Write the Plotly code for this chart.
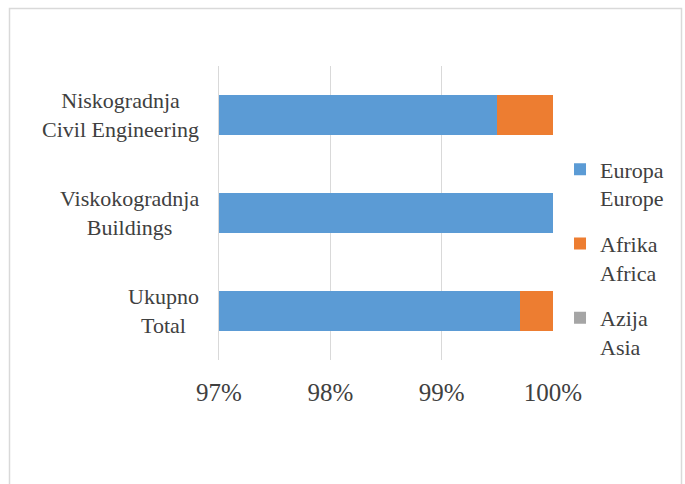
import plotly.graph_objects as go

categories = ["Niskogradnja<br>Civil Engineering", "Viskokogradnja<br>Buildings", "Ukupno<br>Total"]
europe = [99.5, 100.0, 99.7]
africa = [0.5, 0.0, 0.3]
asia = [0.0, 0.0, 0.0]
series_names = ["Europa<br>Europe", "Afrika<br>Africa", "Azija<br>Asia"]
colors = ["#5B9BD5", "#ED7D31", "#A5A5A5"]
tick_vals = [97, 98, 99, 100]
tick_text = ["97%", "98%", "99%", "100%"]

FONT = "Liberation Serif"
TXT = "#404040"
GRID = "#D9D9D9"

fig = go.Figure()
for name, vals, col in zip(series_names, [europe, africa, asia], colors):
    fig.add_trace(go.Bar(
        y=categories, x=vals, name=name, orientation="h",
        marker=dict(color=col, line=dict(width=0)),
        legendgroup=name,
    ))

# category labels, centred within a right-aligned block
for cat in categories:
    fig.add_annotation(
        x=(201 - 219) / 334, xref="paper", y=cat, yref="y",
        text=cat, showarrow=False, xanchor="right", align="center",
        font=dict(size=22, family=FONT, color=TXT),
    )

fig.update_layout(
    barmode="stack",
    bargap=0.6,
    width=685, height=484,
    margin=dict(l=219, r=132, t=66, b=124, autoexpand=False),
    paper_bgcolor="white", plot_bgcolor="white",
    font=dict(family=FONT, color=TXT, size=22),
    xaxis=dict(
        range=[97, 100], tickvals=tick_vals, ticktext=tick_text,
        showgrid=True, gridcolor=GRID, gridwidth=1,
        zeroline=False, showline=False,
        tickfont=dict(size=25, family=FONT, color=TXT),
        ticks="", ticklabelstandoff=15,
    ),
    yaxis=dict(
        autorange="reversed", showgrid=False, zeroline=False,
        showline=True, linecolor=GRID, linewidth=1,
        showticklabels=False, ticks="",
    ),
    legend=dict(
        x=1.021, xanchor="left", y=0.347, yanchor="middle",
        traceorder="grouped", tracegroupgap=14, valign="top",
        font=dict(size=22, family=FONT, color=TXT),
        bgcolor="rgba(0,0,0,0)",
    ),
    shapes=[dict(
        type="rect", xref="paper", yref="paper",
        x0=(9.5 - 219) / 334, x1=(681.5 - 219) / 334,
        y0=(360 - 520) / 294, y1=1 + (66 - 8.5) / 294,
        line=dict(color=GRID, width=1.5), layer="below",
    )],
)

fig.write_html("out.html")
